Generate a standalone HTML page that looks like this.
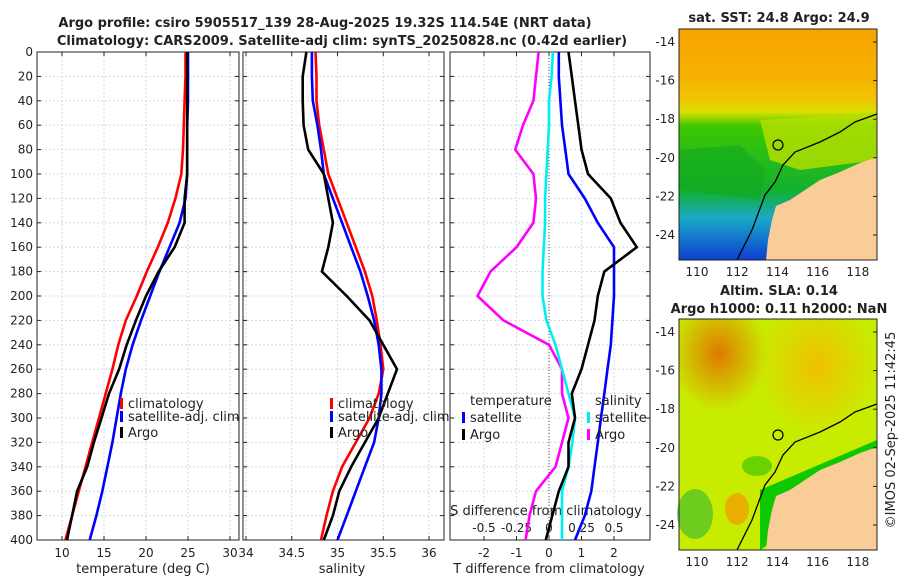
<!DOCTYPE html>
<html><head><meta charset="utf-8"><style>
body{margin:0;background:#fff;width:900px;height:580px;overflow:hidden;font-family:"Liberation Sans","DejaVu Sans",sans-serif}
svg text{font-family:"DejaVu Sans","Liberation Sans",sans-serif}
</style></head><body>
<svg id="c" width="900" height="580" viewBox="0 0 900 580" xmlns="http://www.w3.org/2000/svg">
<defs>
<linearGradient id="sst" x1="0" y1="0" x2="0" y2="1">
<stop offset="0" stop-color="#f5a400"/><stop offset="0.2" stop-color="#f7b000"/><stop offset="0.3" stop-color="#f2c400"/><stop offset="0.36" stop-color="#d8e000"/><stop offset="0.42" stop-color="#3ec800"/><stop offset="0.7" stop-color="#12b030"/><stop offset="0.82" stop-color="#1aa8c8"/><stop offset="1" stop-color="#0c3fd0"/></linearGradient>
<radialGradient id="sla1" cx="0.2" cy="0.15" r="0.25"><stop offset="0" stop-color="#e07a00"/><stop offset="1" stop-color="#e07a00" stop-opacity="0"/></radialGradient>
<radialGradient id="sla2" cx="0.7" cy="0.2" r="0.3"><stop offset="0" stop-color="#f0c000"/><stop offset="1" stop-color="#f0c000" stop-opacity="0"/></radialGradient>
</defs>
<g id="plots"></g>
</svg>
<script>
const depths=[0,20,40,60,80,100,120,140,160,180,200,220,240,260,280,300,320,340,360,380,400];
const tClim=[24.7,24.7,24.6,24.5,24.4,24.2,23.5,22.6,21.4,20.1,18.9,17.6,16.7,16.0,15.2,14.4,13.6,12.8,12.0,11.2,10.4];
const tSat=[25.0,25.0,25.0,24.9,24.9,24.9,24.7,24.0,22.8,21.6,20.5,19.4,18.4,17.6,17.0,16.5,16.0,15.4,14.8,14.1,13.3];
const tArgo=[24.9,24.9,24.9,24.9,24.9,24.9,24.6,24.6,23.4,21.5,20.0,18.8,17.7,16.8,15.6,14.7,13.8,13.0,11.8,11.2,10.6];
const sClim=[34.76,34.77,34.77,34.8,34.85,34.9,35.0,35.1,35.2,35.3,35.38,35.43,35.47,35.5,35.45,35.35,35.2,35.05,34.95,34.88,34.82];
const sSat=[34.72,34.72,34.73,34.78,34.82,34.85,34.95,35.05,35.15,35.25,35.33,35.4,35.45,35.48,35.48,35.45,35.4,35.3,35.2,35.1,35.0];
const sArgo=[34.66,34.62,34.62,34.63,34.68,34.85,34.9,34.95,34.9,34.83,35.1,35.35,35.5,35.65,35.55,35.45,35.3,35.15,35.02,34.95,34.85];
const dTSat=[0.3,0.3,0.35,0.4,0.5,0.6,1.1,1.5,2.0,2.0,2.0,1.95,1.9,1.8,1.7,1.6,1.5,1.4,1.3,1.1,0.8];
const dTArgo=[0.6,0.7,0.8,0.9,1.0,1.2,1.9,2.2,2.7,1.7,1.5,1.4,1.2,1.0,0.7,0.8,0.6,0.6,0.3,0.1,-0.1];
const dSSat=[0.03,0.02,0.0,0.0,-0.01,-0.02,-0.03,-0.03,-0.04,-0.05,-0.05,-0.02,0.05,0.1,0.15,0.2,0.18,0.15,0.1,0.1,0.1];
const dSArgo=[-0.08,-0.1,-0.12,-0.2,-0.26,-0.12,-0.1,-0.12,-0.25,-0.45,-0.55,-0.35,0.0,0.1,0.1,0.15,0.1,0.05,-0.1,-0.15,-0.18];
const depthTicks=[0,20,40,60,80,100,120,140,160,180,200,220,240,260,280,300,320,340,360,380,400];
const tTicks=[10,15,20,25,30];
const sTicks=[34,34.5,35,35.5,36];
const dTTicks=[-2,-1,0,1,2];
const dSTicks=[-0.5,-0.25,0,0.25,0.5];
const NS='http://www.w3.org/2000/svg';
const root=document.getElementById('plots');
function el(t,a,p){const e=document.createElementNS(NS,t);for(const k in a)e.setAttribute(k,a[k]);(p||root).appendChild(e);return e;}
function txt(x,y,s,a,p){const e=el('text',Object.assign({x:x,y:y,'font-size':13,fill:'#222'},a||{}),p);e.textContent=s;return e;}
const Y0=52,Y1=540;
const yD=d=>Y0+(d/400)*(Y1-Y0);
const xT=v=>62+(v-10)*8.4;
const xS=v=>246+(v-34)*91.5;
const xDT=v=>549+v*32.5;
const xDS=v=>549+v*130;
const panels=[{x0:37,x1:239,name:'temperature-panel'},{x0:243,x1:444,name:'salinity-panel'},{x0:450,x1:650,name:'difference-panel'}];
panels.forEach((p,i)=>{
 const g=el('g',{});
 
 
 depthTicks.forEach(d=>{el('line',{x1:p.x0,x2:p.x1,y1:yD(d),y2:yD(d),stroke:'#c8d0e8','stroke-width':0.8,'stroke-dasharray':'2,2'},g);});
 const xs=i==0?tTicks.map(xT):i==1?sTicks.map(xS):dTTicks.map(xDT);
 xs.forEach(x=>el('line',{x1:x,x2:x,y1:Y0,y2:Y1,stroke:'#c8d0e8','stroke-width':0.8,'stroke-dasharray':'2,2'},g));
 el('rect',{x:p.x0,y:Y0,width:p.x1-p.x0,height:Y1-Y0,fill:'none',stroke:'#222','stroke-width':1},g);
 xs.forEach(x=>{el('line',{x1:x,x2:x,y1:Y1,y2:Y1-4,stroke:'#222'},g);el('line',{x1:x,x2:x,y1:Y0,y2:Y0+4,stroke:'#222'},g);});
 depthTicks.forEach(d=>{el('line',{x1:p.x0,x2:p.x0+4,y1:yD(d),y2:yD(d),stroke:'#222'},g);el('line',{x1:p.x1,x2:p.x1-4,y1:yD(d),y2:yD(d),stroke:'#222'},g);});
});
depthTicks.forEach(d=>{const t=txt(33,yD(d)+4,String(d),{'text-anchor':'end','font-size':12});});
tTicks.forEach(v=>{const t=txt(xT(v),557,String(v),{'text-anchor':'middle','font-size':12});});
sTicks.forEach(v=>{const t=txt(xS(v),557,String(v),{'text-anchor':'middle','font-size':12});});
dTTicks.forEach(v=>{const t=txt(xDT(v),557,String(v),{'text-anchor':'middle','font-size':12});});
dSTicks.forEach(v=>{const t=txt(xDS(v),532,String(v),{'text-anchor':'middle','font-size':12});});
let t;
t=txt(143,573,'temperature (deg C)',{'text-anchor':'middle'});
t=txt(342,573,'salinity',{'text-anchor':'middle'});
t=txt(549,573,'T difference from climatology',{'text-anchor':'middle'});
t=txt(546,515,'S difference from climatology',{'text-anchor':'middle'});
el('line',{x1:549,x2:549,y1:Y0,y2:Y1,stroke:'#555','stroke-dasharray':'1,2'});
function line(xs,xf,color,name){const pts=xs.map((v,i)=>xf(v).toFixed(1)+','+yD(depths[i]).toFixed(1)).join(' ');const p=el('polyline',{points:pts,fill:'none',stroke:color,'stroke-width':2.6,'stroke-linejoin':'round'});}
line(tClim,xT,'#f00','temp-climatology-line');line(tSat,xT,'#00f','temp-satellite-line');line(tArgo,xT,'#000','temp-argo-line');
line(sClim,xS,'#f00','sal-climatology-line');line(sSat,xS,'#00f','sal-satellite-line');line(sArgo,xS,'#000','sal-argo-line');
line(dSArgo,xDS,'#f0f','ds-argo-line');line(dSSat,xDS,'#0ee','ds-satellite-line');line(dTSat,xDT,'#00f','dt-satellite-line');line(dTArgo,xDT,'#000','dt-argo-line');
function leg(x,y,color,label,name){const g=el('g',{});el('rect',{x:x,y:y-10,width:3,height:11,fill:color},g);txt(x+8,y,label,{},g);}
leg(120,408,'#f00','climatology','legend-temp-climatology');leg(120,421,'#00f','satellite-adj. clim','legend-temp-satellite');leg(120,437,'#000','Argo','legend-temp-argo');
leg(330,408,'#f00','climatology','legend-sal-climatology');leg(330,421,'#00f','satellite-adj. clim','legend-sal-satellite');leg(330,437,'#000','Argo','legend-sal-argo');
t=txt(470,405,'temperature');
leg(462,422,'#00f','satellite','legend-dt-satellite');leg(462,439,'#000','Argo','legend-dt-argo');
t=txt(595,405,'salinity');
leg(587,422,'#0ee','satellite','legend-ds-satellite');leg(587,439,'#f0f','Argo','legend-ds-argo');
t=txt(325,27,'Argo profile: csiro 5905517_139 28-Aug-2025 19.32S 114.54E (NRT data)',{'text-anchor':'middle','font-weight':'bold'});
t=txt(342,45,'Climatology: CARS2009. Satellite-adj clim: synTS_20250828.nc (0.42d earlier)',{'text-anchor':'middle','font-weight':'bold'});
const lonTicks=[110,112,114,116,118];const latTicks=[-14,-16,-18,-20,-22,-24];
const xLon=v=>697+(v-110)*20.1;
function map(top,kind,name){
 const g=el('g',{});
 const o=top-29;
 if(kind==0){el('rect',{x:679,y:top,width:198,height:231,fill:'url(#sst)'},g);
  el('polygon',{points:`760,${120+o} 800,${118+o} 877,${112+o} 877,${160+o} 800,${170+o} 770,${160+o}`,fill:'#b8e000','opacity':0.8},g);
  el('polygon',{points:`679,${150+o} 740,${145+o} 765,${170+o} 760,${200+o} 679,${190+o}`,fill:'#10a820','opacity':0.6},g);}
 else{el('rect',{x:679,y:top,width:198,height:231,fill:'#c8ec00'},g);
  el('rect',{x:679,y:top,width:198,height:231,fill:'url(#sla1)'},g);el('rect',{x:679,y:top,width:198,height:231,fill:'url(#sla2)'},g);
  el('ellipse',{cx:737,cy:top+190,rx:12,ry:16,fill:'#f0a000',opacity:0.8},g);
  el('polygon',{points:`760,${200+o} 877,${150+o} 877,${210+o} 790,${240+o} 760,${260+o}`,fill:'#10c800'},g);
  el('ellipse',{cx:757,cy:top+147,rx:15,ry:10,fill:'#40c800',opacity:0.7},g);
  el('ellipse',{cx:695,cy:top+195,rx:18,ry:25,fill:'#30b830',opacity:0.6},g);}
 el('polygon',{points:`877,${157+o} 860,${163+o} 840,${172+o} 820,${180+o} 805,${190+o} 790,${200+o} 776,${206+o} 772,${220+o} 768,${240+o} 766,${260+o} 877,${260+o}`,fill:'#f9cc98'},g);
 el('polyline',{points:`877,${114+o} 855,${122+o} 840,${132+o} 820,${142+o} 795,${152+o} 783,${165+o} 775,${182+o} 765,${195+o} 752,${230+o} 737,${260+o}`,fill:'none',stroke:'#000','stroke-width':1.3},g);
 el('circle',{cx:778,cy:145+o,r:5,fill:'none',stroke:'#000','stroke-width':1.2},g);
 el('rect',{x:679,y:top,width:198,height:231,fill:'none',stroke:'#222'},g);
 lonTicks.forEach(v=>{txt(xLon(v),top+247,String(v),{'text-anchor':'middle','font-size':12},g);});
 latTicks.forEach(v=>{const y=42+o+(-14-v)*19.3;el('line',{x1:877,x2:873,y1:y,y2:y,stroke:'#222'},g);txt(675,y+4,String(v),{'text-anchor':'end','font-size':12},g);});
}
map(29,0,'sst-map');map(319,1,'sla-map');
t=txt(779,22,'sat. SST: 24.8 Argo: 24.9',{'text-anchor':'middle','font-weight':'bold'});
t=txt(779,295,'Altim. SLA: 0.14',{'text-anchor':'middle','font-weight':'bold'});
t=txt(779,313,'Argo h1000: 0.11 h2000: NaN',{'text-anchor':'middle','font-weight':'bold'});
t=txt(0,0,'©IMOS 02-Sep-2025 11:42:45',{'text-anchor':'middle','font-size':13,transform:'translate(895,430) rotate(-90)'});
</script>
</body></html>
